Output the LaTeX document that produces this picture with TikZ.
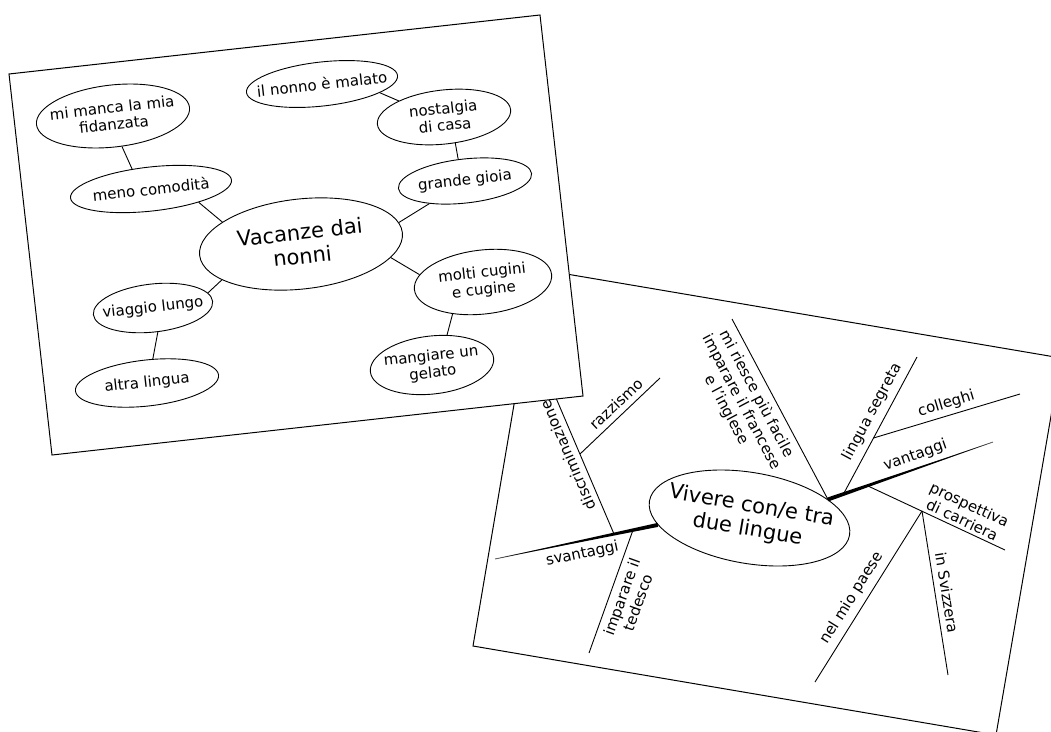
\documentclass[tikz,border=0pt]{standalone}
\usepackage{fontspec}
\setmainfont{DejaVu Sans}
\usetikzlibrary{shapes.geometric,calc}

\newcommand{\cardtext}{\fontsize{15}{17}\selectfont}
\newcommand{\cardtitle}{\fontsize{21}{24}\selectfont}

\tikzset{
  card/.style={draw, fill=white, line width=1pt},
  bubble/.style={draw, ellipse, inner xsep=-20pt, inner ysep=-8pt, align=center, line width=0.9pt},
  lbubble/.style={bubble, font=\cardtext, rotate=6.4},
  link/.style={line width=0.9pt},
  branch/.style={line width=0.9pt},
  twig/.style={font=\cardtext, align=center, sloped, inner sep=5.5pt}
}

\begin{document}
\begin{tikzpicture}[x=1pt,y=-1pt]
\useasboundingbox (0,0) rectangle (1051,731);
\clip (0,0) rectangle (1051,731);

% card 2: Vivere con/e tra due lingue
\coordinate (rcTL) at (537,269);
\coordinate (rcTR) at (1061,358);
\coordinate (rcBR) at (996,735);
\coordinate (rcBL) at (473,646);
\filldraw[card] (rcTL) -- (rcTR) -- (rcBR) -- (rcBL) -- cycle;

\node[bubble, font=\cardtitle, rotate=-9.7, minimum width=203pt, minimum height=91pt] (viv) at (749.5,518) {Vivere con/e tra\\due lingue};

\coordinate (svEnd) at (495,559);
\coordinate (vaEnd) at (993,442);
\coordinate (discJ) at (614,534);
\coordinate (discTop) at (556,398);
\coordinate (razJ) at (580,454);
\coordinate (razTop) at (660,378);
\coordinate (tedJ) at (633,530);
\coordinate (tedEnd) at (589,653);
\coordinate (riesTop) at (732,319);
\coordinate (lingJ) at (844,493);
\coordinate (lingTop) at (917,357);
\coordinate (collJ) at (873.5,438);
\coordinate (collEnd) at (1020,394);
\coordinate (prosJ) at (868,486);
\coordinate (prosEnd) at (1005,550);
\coordinate (paeseJ) at (922,511);
\coordinate (paeseEnd) at (815,682);
\coordinate (svizEnd) at (948,675);

% svantaggi / vantaggi
\draw[branch, gray] (svEnd) -- (viv.194);
\fill ($(viv.194)!2pt!90:(svEnd)$) -- ($(viv.194)!2pt!-90:(svEnd)$) -- (svEnd) -- cycle;
\path (svEnd) -- (viv.194) node[twig, pos=0.52, below] (tSvan) {svantaggi};
\draw[branch, gray] (viv.23) -- (vaEnd);
\fill ($(viv.23)!2pt!90:(vaEnd)$) -- ($(viv.23)!2pt!-90:(vaEnd)$) -- (vaEnd) -- cycle;
\path (viv.23) -- (vaEnd) node[twig, pos=0.555, above] (tVan) {vantaggi};

\draw[branch] (discJ) -- (discTop) node[twig, pos=0.61, above, allow upside down] (tDisc) {discriminazione};
\draw[branch] (razJ) -- (razTop) node[twig, pos=0.55, above] (tRaz) {razzismo};
\draw[branch] (tedEnd) -- (tedJ) node[twig, pos=0.49, below] (tTed) {imparare il\\tedesco};
\draw[branch] (riesTop) -- (viv.23) node[twig, pos=0.38, below] (tRies) {mi riesce più facile\\imparare il francese\\e l'inglese};
\draw[branch] (lingJ) -- (lingTop) node[twig, pos=0.55, above] (tLing) {lingua segreta};
\draw[branch] (collJ) -- (collEnd) node[twig, pos=0.52, above, inner sep=4pt] (tColl) {colleghi};
\draw[branch] (prosJ) -- (prosEnd) node[twig, pos=0.66, above, inner sep=3pt] (tPros) {prospettiva\\di carriera};
\draw[branch] (paeseEnd) -- (paeseJ) node[twig, pos=0.45, above] (tPaese) {nel mio paese};
\draw[branch] (paeseJ) -- (svizEnd) node[twig, pos=0.51, above] (tSviz) {in Svizzera};

% card 1: Vacanze dai nonni
\coordinate (lcTL) at (9,74);
\coordinate (lcTR) at (540,15);
\coordinate (lcBR) at (583,396);
\coordinate (lcBL) at (52,455);
\filldraw[card] (lcTL) -- (lcTR) -- (lcBR) -- (lcBL) -- cycle;

\node[bubble, font=\cardtitle, rotate=6.4, minimum width=204pt, minimum height=90pt] (vac) at (301,244) {Vacanze dai\\nonni};
\node[lbubble, minimum width=154pt, minimum height=62pt] (fid) at (113,116) {mi manca la mia\\fidanzata};
\node[lbubble, minimum width=152pt, minimum height=44pt] (nonno) at (322,84) {il nonno è malato};
\node[lbubble, minimum width=134pt, minimum height=54pt] (nost) at (444,117) {nostalgia\\di casa};
\node[lbubble, minimum width=162pt, minimum height=44pt] (meno) at (151,189) {meno comodità};
\node[lbubble, minimum width=134pt, minimum height=44pt] (gioia) at (465,181) {grande gioia};
\node[lbubble, minimum width=138pt, minimum height=64pt] (cug) at (483,282) {molti cugini\\e cugine};
\node[lbubble, minimum width=120pt, minimum height=48pt] (viag) at (153,308) {viaggio lungo};
\node[lbubble, minimum width=124pt, minimum height=58pt] (mang) at (432,365) {mangiare un\\gelato};
\node[lbubble, minimum width=144pt, minimum height=46pt] (altra) at (147,383) {altra lingua};

\draw[link] (fid.-80) -- (meno.127);
\draw[link] (meno.-22) -- (vac.158);
\draw[link] (nonno.-15) -- (nost.154);
\draw[link] (nost.-73) -- (gioia.101);
\draw[link] (gioia.206) -- (vac.6);
\draw[link] (vac.-15) -- (cug.167);
\draw[link] (cug.220) -- (mang.57);
\draw[link] (vac.198) -- (viag.9);
\draw[link] (viag.-85) -- (altra.70);
\end{tikzpicture}
\end{document}
